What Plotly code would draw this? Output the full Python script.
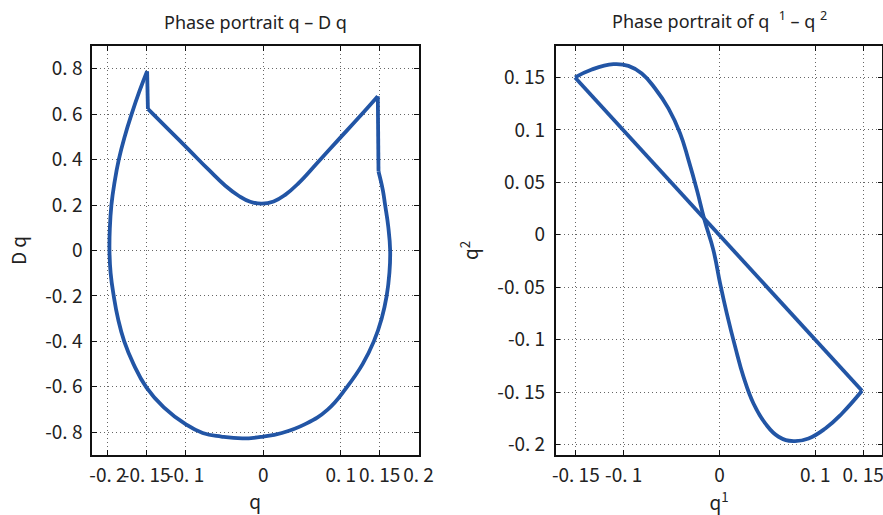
import plotly.graph_objects as go

# ---------------- data ----------------
# Left panel: phase portrait q - Dq
outer_q = [0.1485, 0.154, 0.157, 0.161, 0.1635, 0.1625, 0.159, 0.1525, 0.1425, 0.128, 0.108,
           0.083, 0.054, 0.024, 0.000, -0.027, -0.054, -0.078, -0.100, -0.128,
           -0.1505, -0.167, -0.179, -0.187, -0.1925, -0.1965, -0.198, -0.1975, -0.1955,
           -0.1915, -0.186, -0.1785, -0.1695, -0.1595, -0.1495]
outer_dq = [0.348, 0.267, 0.200, 0.106, 0.000, -0.100, -0.200, -0.300, -0.400, -0.500, -0.600,
            -0.700, -0.764, -0.803, -0.819, -0.827, -0.819, -0.803, -0.764, -0.690,
            -0.602, -0.500, -0.400, -0.300, -0.200, -0.100, 0.000, 0.100, 0.200,
            0.300, 0.400, 0.500, 0.600, 0.700, 0.789]
valley_q = [-0.1485, -0.1218, -0.0960, -0.0703, -0.0488, -0.0317, -0.0167, -0.0017,
            0.0134, 0.0283, 0.0456, 0.0713, 0.097, 0.1228, 0.1476]
valley_dq = [0.623, 0.532, 0.444, 0.3555, 0.285, 0.241, 0.2145, 0.206,
             0.216, 0.245, 0.2966, 0.392, 0.488, 0.584, 0.679]
jump_left_q = [-0.1495, -0.1485]
jump_left_dq = [0.789, 0.623]
jump_right_q = [0.1476, 0.148, 0.1485]
jump_right_dq = [0.679, 0.500, 0.348]

# Right panel: phase portrait q1 - q2
diag_q1 = [-0.1508, 0.1488]
diag_q2 = [0.150, -0.1488]
loop_q1 = [0.1488, 0.1279, 0.1105, 0.0930, 0.0773, 0.0617, 0.0478, 0.0355, 0.0251, 0.0164,
           0.0077, 0.0007, -0.0063, -0.0157, -0.0236, -0.0324, -0.0411, -0.0533, -0.0672,
           -0.0811, -0.0951, -0.1107, -0.1333, -0.1508]
loop_q2 = [-0.1488, -0.1704, -0.1847, -0.1942, -0.1967, -0.1926, -0.1799, -0.1609, -0.1355,
           -0.1069, -0.0752, -0.0466, -0.0149, 0.0143, 0.0428, 0.0714, 0.0967, 0.1205, 0.1395,
           0.1538, 0.1611, 0.1627, 0.1576, 0.150]

left_xticks = [-0.2, -0.15, -0.1, 0, 0.1, 0.15, 0.2]
left_xlabels = ["-0. 2", "-0. 15", "-0. 1", "0", "0. 1", "0. 15", "0. 2"]
left_yticks = [-0.8, -0.6, -0.4, -0.2, 0, 0.2, 0.4, 0.6, 0.8]
left_ylabels = ["-0. 8", "-0. 6", "-0. 4", "-0. 2", "0", "0. 2", "0. 4", "0. 6", "0. 8"]
right_xticks = [-0.15, -0.1, 0, 0.1, 0.15]
right_xlabels = ["-0. 15", "-0. 1", "0", "0. 1", "0. 15"]
right_yticks = [-0.2, -0.15, -0.1, -0.05, 0, 0.05, 0.1, 0.15]
right_ylabels = ["-0. 2", "-0. 15", "-0. 1", "-0. 05", "0", "0. 05", "0. 1", "0. 15"]

# ---------------- styling ----------------
BLUE = "#2255A5"
LW = 3.8
TXT = "#222222"
TICKFONT = dict(family="Noto Sans CJK JP", size=19, color=TXT)
AXTITLEFONT = dict(family="Noto Sans CJK JP", size=19, color=TXT)
TITLEFONT = dict(family="Noto Sans", size=18, color=TXT)

fig = go.Figure()

def add(x, y, xa, ya, shape):
    line = dict(color=BLUE, width=LW, shape=shape)
    if shape == "spline":
        line["smoothing"] = 1.3
    fig.add_trace(go.Scatter(x=x, y=y, xaxis=xa, yaxis=ya, mode="lines", line=line,
                             showlegend=False, hoverinfo="skip"))

add(outer_q, outer_dq, "x", "y", "spline")
add(valley_q, valley_dq, "x", "y", "spline")
add(jump_left_q, jump_left_dq, "x", "y", "linear")
add(jump_right_q, jump_right_dq, "x", "y", "linear")
add(diag_q1, diag_q2, "x2", "y2", "linear")
add(loop_q1, loop_q2, "x2", "y2", "spline")

W, H = 883, 515
ydom = [(H - 455) / H, (H - 46) / H]

common = dict(showline=True, linecolor="#111111", linewidth=1.5, mirror="ticks",
              ticks="inside", ticklen=5, tickcolor="#111111", tickwidth=1,
              showgrid=True, gridcolor="#666666", griddash="1px,3px", gridwidth=1,
              zeroline=False, tickfont=TICKFONT, tickangle=0, tickmode="array",
              automargin=False, ticklabeloverflow="allow")

fig.update_layout(
    width=W, height=H, margin=dict(l=0, r=0, t=0, b=0),
    paper_bgcolor="white", plot_bgcolor="white",
    xaxis=dict(common, domain=[92 / W, 418.5 / W], range=[-0.2205, 0.2],
               tickvals=left_xticks, ticktext=left_xlabels, anchor="y", ticklabelstandoff=2,
               title=dict(text="q", font=AXTITLEFONT, standoff=2)),
    yaxis=dict(common, domain=ydom, range=[-0.9, 0.9],
               tickvals=left_yticks, ticktext=left_ylabels, anchor="x", ticklabelstandoff=4,
               title=dict(text="D q", font=AXTITLEFONT, standoff=14)),
    xaxis2=dict(common, domain=[555.7 / W, 882.3 / W], range=[-0.171, 0.170],
                tickvals=right_xticks, ticktext=right_xlabels, anchor="y2", ticklabelstandoff=2,
                title=dict(text="q<sup>1</sup>", font=AXTITLEFONT, standoff=12)),
    yaxis2=dict(common, domain=ydom, range=[-0.21, 0.18],
                tickvals=right_yticks, ticktext=right_ylabels, anchor="x2", ticklabelstandoff=5,
                title=dict(text="q<sup>2</sup>", font=AXTITLEFONT, standoff=14)),
    annotations=[
        dict(text="Phase portrait q \u2013 D q", x=255 / W, y=1 - 22 / H, xref="paper", yref="paper",
             showarrow=False, font=TITLEFONT, xanchor="center", yanchor="middle"),
        dict(text="Phase portrait of q  <sup>1</sup> \u2013 q <sup>2</sup>", x=719 / W, y=1 - 20 / H,
             xref="paper", yref="paper", showarrow=False, font=TITLEFONT,
             xanchor="center", yanchor="middle"),
    ],
)

fig.write_html("out.html", config={"displayModeBar": False},
               post_script="document.body.style.margin='0';")
